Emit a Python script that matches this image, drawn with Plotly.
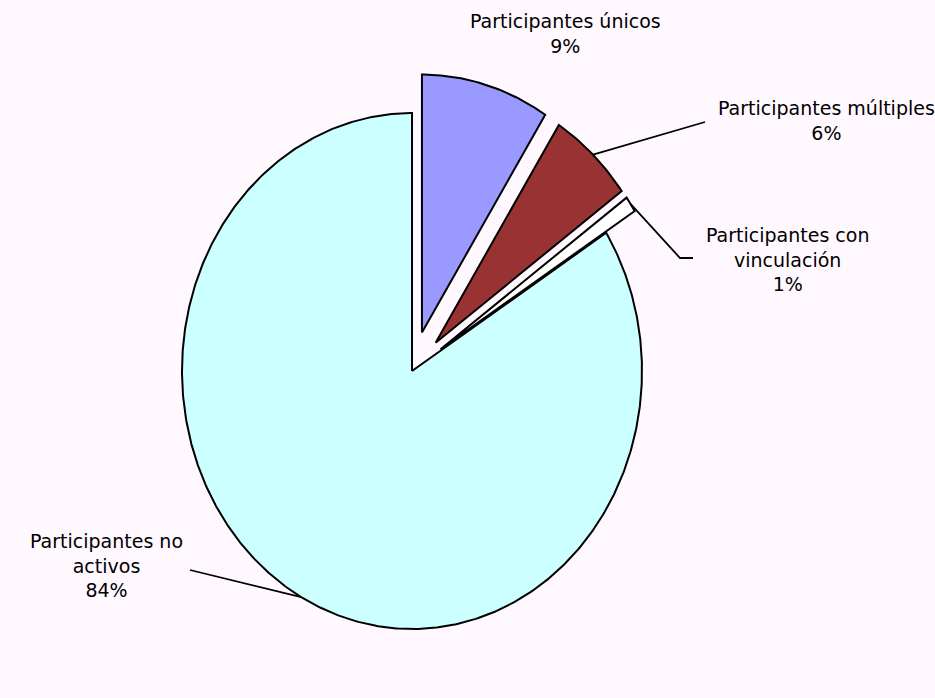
import numpy as np
import plotly.graph_objects as go

# Participant categories and their share (%)
categories = ["Participantes únicos", "Participantes múltiples",
              "Participantes con vinculación", "Participantes no activos"]
label_text = ["Participantes únicos", "Participantes múltiples",
              "Participantes con<br>vinculación", "Participantes no<br>activos"]
values = [9, 6, 1, 84]

colors = ["#9999FF", "#993333", "#FFFFFF", "#CCFFFF"]
explode = [0.155, 0.15, 0.15, 0.0]

W, H = 935, 698
BG = "#FFF8FF"
# pie centre and radii in plot units (axes span the full canvas)
cx, cy, rx, ry = 412, 371, 230, 258

# label centres and leader-line elbows
label_pos = [(565, 33), (826, 120), (787, 259), (106, 565)]
leader_tail = [None, [(705, 122)], [(680, 258), (693, 258)], [(190, 570)]]


def point(theta, r, ox, oy):
    t = np.radians(theta)
    return ox + r * rx * np.sin(t), oy - r * ry * np.cos(t)


fig = go.Figure()

total = float(sum(values))
start = 0.0
for i, v in enumerate(values):
    span = 360.0 * v / total
    a0, a1 = start, start + span
    mid = (a0 + a1) / 2
    ox, oy = point(mid, explode[i], cx, cy)
    ang = np.linspace(a0, a1, max(int(span * 2), 8))
    xs = [ox] + [point(a, 1.0, ox, oy)[0] for a in ang] + [ox]
    ys = [oy] + [point(a, 1.0, ox, oy)[1] for a in ang] + [oy]
    fig.add_trace(go.Scatter(
        x=xs, y=ys, mode="lines", fill="toself", fillcolor=colors[i],
        line=dict(color="#000000", width=2), hoverinfo="text",
        text=f"{categories[i]}: {v}%", showlegend=False))

    # leader line from the middle of the arc
    if leader_tail[i] is not None:
        sx, sy = point(mid, 1.0, ox, oy)
        lx = [sx] + [p[0] for p in leader_tail[i]]
        ly = [sy] + [p[1] for p in leader_tail[i]]
        fig.add_trace(go.Scatter(x=lx, y=ly, mode="lines",
                                 line=dict(color="#000000", width=1.8),
                                 hoverinfo="skip", showlegend=False))

    tx, ty = label_pos[i]
    fig.add_annotation(x=tx, y=ty, xref="x", yref="y", showarrow=False,
                       text=f"{label_text[i]}<br>{v}%", align="center",
                       font=dict(family="DejaVu Sans", size=19, color="#000000"),
                       xanchor="center", yanchor="middle")
    start = a1

fig.update_xaxes(range=[0, W], visible=False, fixedrange=True)
fig.update_yaxes(range=[H, 0], visible=False, fixedrange=True)
fig.update_layout(width=W, height=H, margin=dict(l=0, r=0, t=0, b=0),
                  paper_bgcolor=BG, plot_bgcolor=BG)

fig.write_html("out.html")
